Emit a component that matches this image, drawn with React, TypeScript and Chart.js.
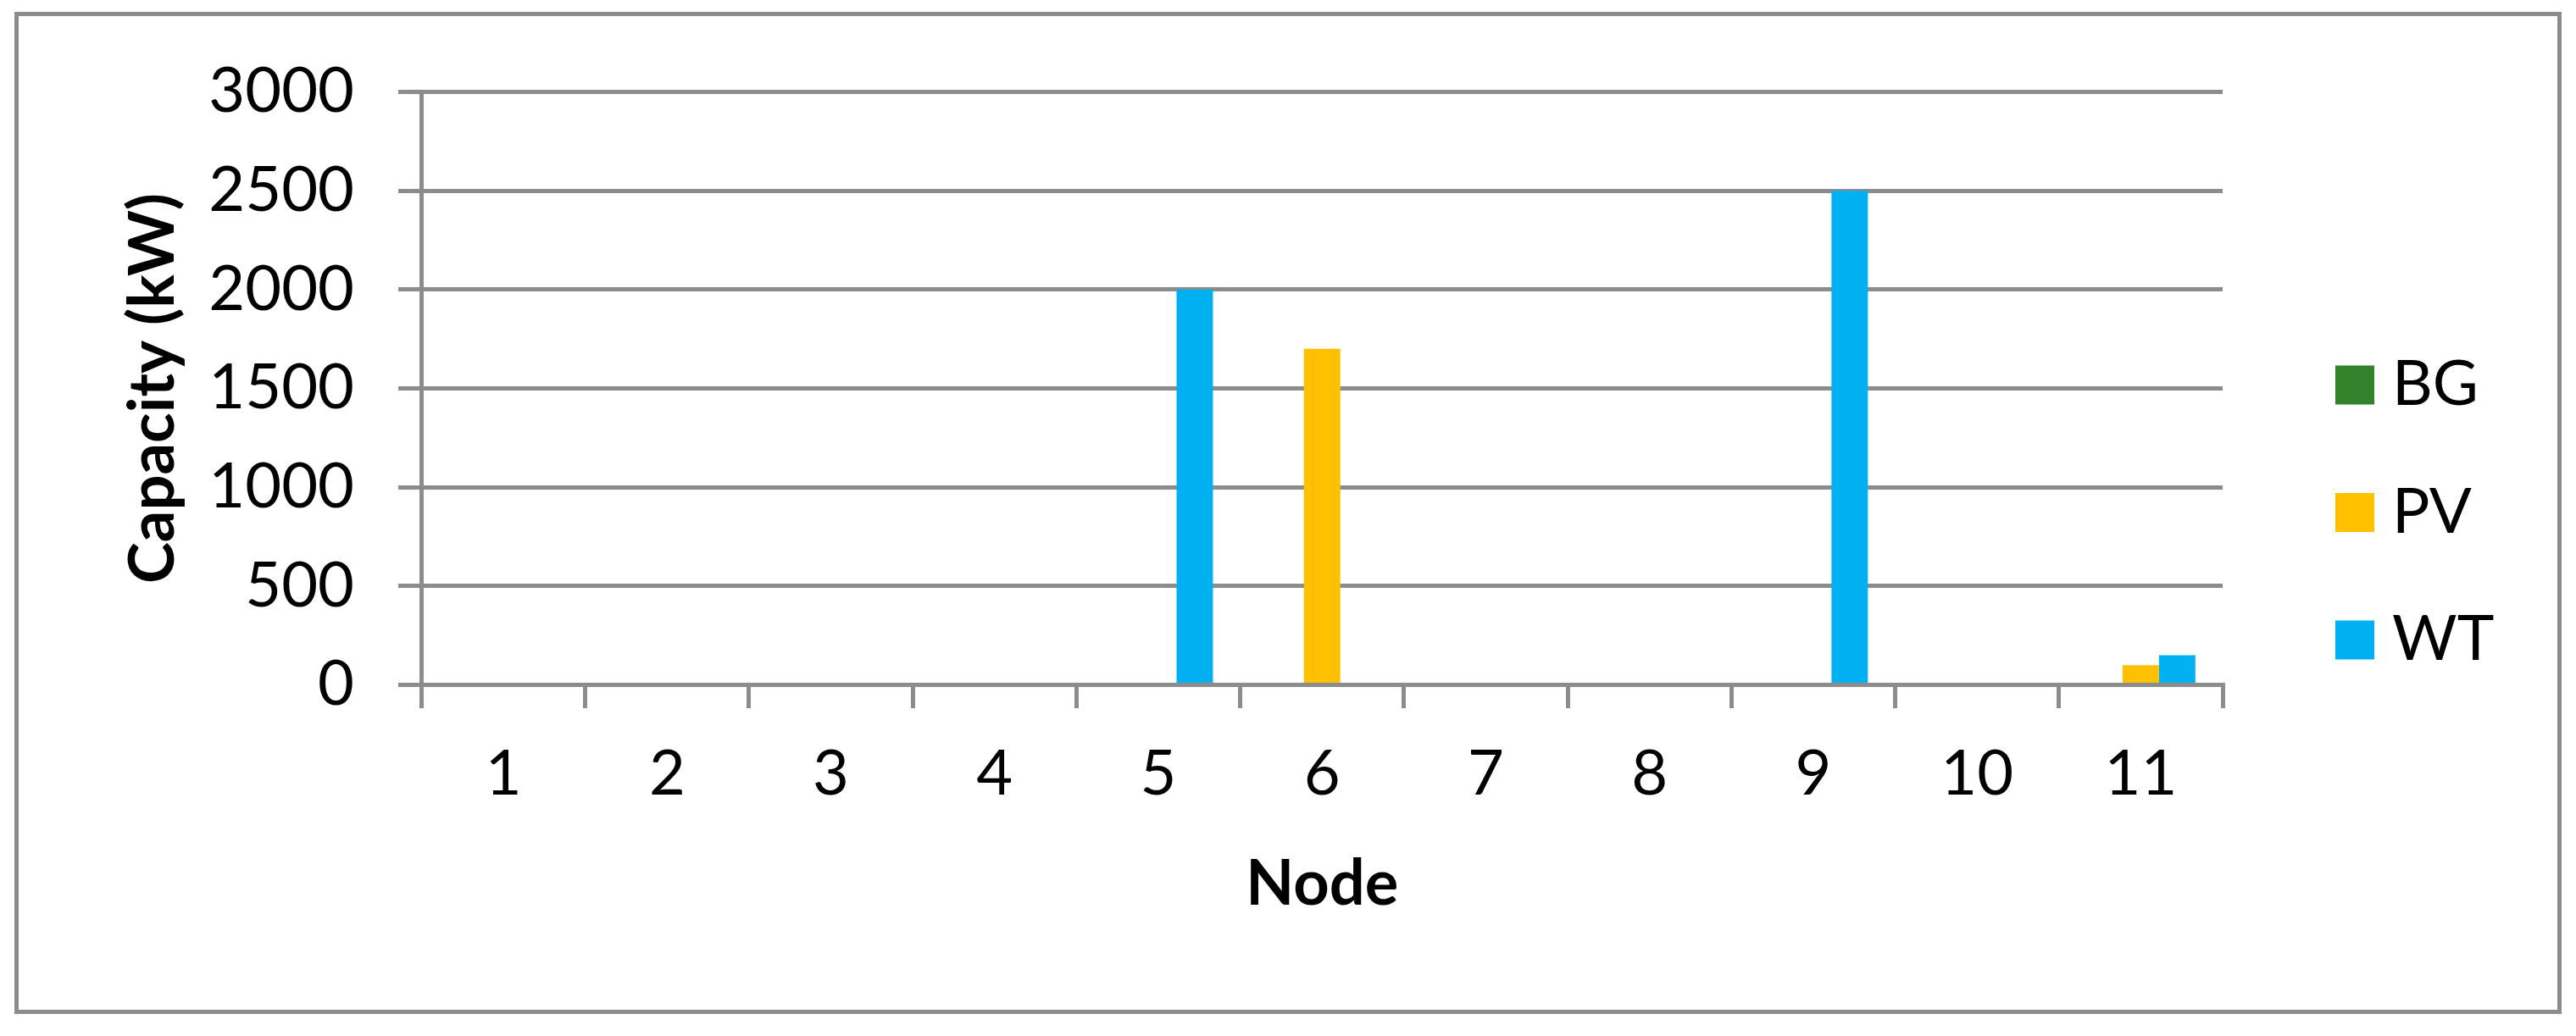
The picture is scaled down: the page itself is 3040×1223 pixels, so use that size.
import React, { useEffect, useRef } from 'react';
import Chart from 'chart.js/auto';

// ---- data ----
const categories = ['1', '2', '3', '4', '5', '6', '7', '8', '9', '10', '11'];
const seriesNames = ['BG', 'PV', 'WT'];
const bgValues = [0, 0, 0, 0, 0, 0, 0, 0, 0, 0, 0];
const pvValues = [0, 0, 0, 0, 0, 1700, 0, 0, 0, 0, 100];
const wtValues = [0, 0, 0, 0, 2000, 0, 0, 0, 2500, 0, 150];
const seriesColors = ['#31822A', '#FFC000', '#00B0F0'];
const yMin = 0;
const yMax = 3000;
const yStep = 500;
const yTitle = 'Capacity (kW)';
const xTitle = 'Node';

// ---- style / layout ----
const W = 3040;
const H = 1223;
const FONT = 'Lato, "Open Sans", sans-serif';
const GRID = '#8C8C8C';
const FS = 74;

const framePlugin = {
  id: 'frame',
  beforeDraw(chart: any) {
    const ctx = chart.ctx;
    ctx.save();
    ctx.fillStyle = '#FFFFFF';
    ctx.fillRect(0, 0, chart.width, chart.height);
    ctx.restore();
  },
  afterDraw(chart: any) {
    const ctx = chart.ctx;
    ctx.save();
    ctx.strokeStyle = GRID;
    ctx.lineWidth = 5;
    ctx.strokeRect(19.5, 16.5, 3001, 1178);
    ctx.restore();
  },
};

const legendPlugin = {
  id: 'sideLegend',
  afterDraw(chart: any) {
    const ctx = chart.ctx;
    ctx.save();
    chart.data.datasets.forEach((ds: any, i: number) => {
      const cy = 454.5 + i * 150.5;
      ctx.fillStyle = ds.backgroundColor;
      ctx.fillRect(2756, cy - 23, 46, 46);
      ctx.fillStyle = '#000000';
      ctx.font = `${FS}px ${FONT}`;
      ctx.textAlign = 'left';
      ctx.textBaseline = 'middle';
      ctx.fillText(ds.label, 2823, cy);
    });
    ctx.restore();
  },
};

export default function App() {
  const ref = useRef<HTMLCanvasElement | null>(null);

  useEffect(() => {
    if (!ref.current) return;
    const values = [bgValues, pvValues, wtValues];
    const chart = new Chart(ref.current, {
      type: 'bar',
      data: {
        labels: categories,
        datasets: seriesNames.map((name, i) => ({
          label: name,
          data: values[i],
          backgroundColor: seriesColors[i],
          borderWidth: 0,
          categoryPercentage: 2 / 3,
          barPercentage: 1,
        })),
      },
      options: {
        responsive: false,
        animation: false,
        layout: { padding: { left: 0, top: 108.5, right: 417, bottom: 0 } },
        plugins: {
          legend: { display: false },
          tooltip: { enabled: false },
        },
        scales: {
          x: {
            grid: {
              display: true,
              drawOnChartArea: false,
              offset: true,
              color: GRID,
              lineWidth: 5,
              tickLength: 27.5,
              tickColor: GRID,
              tickWidth: 5,
            },
            border: { display: true, color: GRID, width: 5 },
            ticks: {
              color: '#000000',
              font: { family: FONT, size: FS },
              padding: 34,
              maxRotation: 0,
              autoSkip: false,
            },
            title: {
              display: true,
              text: xTitle,
              color: '#000000',
              font: { family: FONT, size: FS, weight: 'bold' },
              padding: { top: 0, bottom: 134 },
            },
            afterFit: (s: any) => {
              s.height = 414.5;
            },
          },
          y: {
            min: yMin,
            max: yMax,
            ticks: {
              stepSize: yStep,
              color: '#000000',
              font: { family: FONT, size: FS },
              padding: 52,
              callback: (v: any) => String(v),
            },
            grid: {
              color: GRID,
              lineWidth: 5,
              tickLength: 27.5,
              tickColor: GRID,
            },
            border: { display: true, color: GRID, width: 5 },
            title: {
              display: true,
              text: yTitle,
              color: '#000000',
              font: { family: FONT, size: FS, weight: 'bold' },
              padding: { top: 137, bottom: 0 },
            },
            afterFit: (s: any) => {
              s.width = 497.5;
            },
          },
        },
      } as any,
      plugins: [framePlugin, legendPlugin],
    });
    return () => chart.destroy();
  }, []);

  return (
    <div style={{ position: 'absolute', left: 0, top: 0, width: W, height: H }}>
      <canvas ref={ref} width={W} height={H} style={{ display: 'block', width: W, height: H }} />
    </div>
  );
}
